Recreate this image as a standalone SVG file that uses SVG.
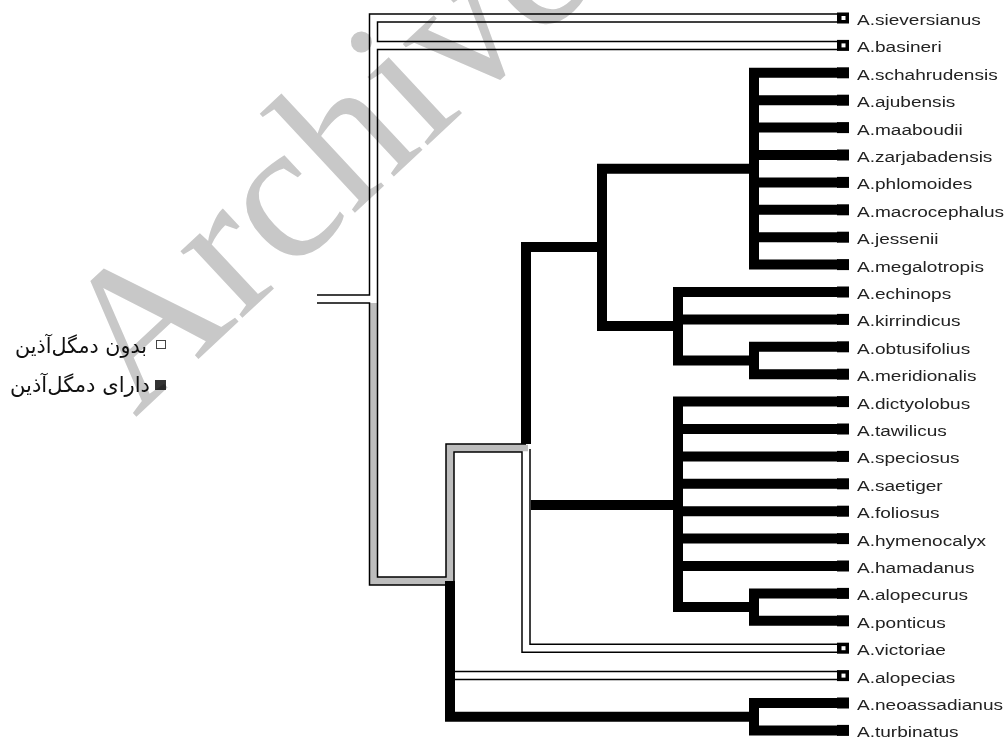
<svg xmlns="http://www.w3.org/2000/svg" width="1005" height="740" viewBox="0 0 1005 740">
<style>
.ol{fill:none;stroke:#000;stroke-width:9.5;stroke-linejoin:miter;stroke-linecap:butt}
.wi{fill:none;stroke:#fff;stroke-width:6.5;stroke-linejoin:miter;stroke-linecap:butt}
.gi{fill:none;stroke:#bdbdbd;stroke-width:6.5;stroke-linejoin:miter;stroke-linecap:butt}
.bk{fill:none;stroke:#000;stroke-width:10;stroke-linejoin:miter;stroke-linecap:butt}
.lab{font-family:"Liberation Sans",Arial,sans-serif;font-size:15px;fill:#222}
.leg{font-family:"DejaVu Sans","Noto Sans",sans-serif;font-size:21px;fill:#111}
.wm{font-family:"Liberation Serif","Times New Roman",serif;font-size:198px;fill:#c8c8c8;mix-blend-mode:multiply}
</style>
<defs>
<g id="sqB"><rect x="837" y="-5.5" width="12" height="11" fill="#000"/></g>
<g id="sqW"><rect x="837" y="-5.5" width="12" height="11" fill="#000"/><rect x="841.5" y="-2" width="4" height="4" fill="#fff"/></g>
</defs>
<rect width="1005" height="740" fill="#fff"/>
<g id="connectors">
 <g id="outlined-outer">
  <path class="ol" d="M838,18 H373.5 V303"/>
  <path class="ol" d="M317,299 H373.5"/>
  <path class="ol" d="M373.5,45.4 H838"/>
  <path class="ol" d="M526,449 V648.2 H838"/>
  <path class="ol" d="M450,675.6 H838"/>
  <path class="ol" d="M373.5,303 V581 H450 V448 H526"/>
 </g>
 <g id="outlined-inner">
  <path class="wi" d="M838,18 H373.5 V303"/>
  <path class="wi" d="M317,299 H373.5"/>
  <path class="wi" d="M373.5,45.4 H838"/>
  <path class="wi" d="M526,449 V648.2 H838"/>
  <path class="wi" d="M450,675.6 H838"/>
  <path class="gi" d="M373.5,303 V581 H450 V448 H528"/>
 </g>
 <g id="black-branches">
  <path class="bk" d="M526,444 V247 H602"/>
  <path class="bk" d="M754,168.7 H602 V326 H678"/>
  <path class="bk" d="M838,72.8 H754 V264.6 H838"/>
  <path class="bk" d="M754,100.2 H838 M754,127.6 H838 M754,155 H838 M754,182.4 H838 M754,209.8 H838 M754,237.2 H838"/>
  <path class="bk" d="M838,292 H678 V360.5 H754"/>
  <path class="bk" d="M678,319.4 H838"/>
  <path class="bk" d="M838,346.8 H754 V374.2 H838"/>
  <path class="bk" d="M531,505 H678"/>
  <path class="bk" d="M838,401.6 H678 V607.1 H754"/>
  <path class="bk" d="M678,429 H838 M678,456.4 H838 M678,483.8 H838 M678,511.2 H838 M678,538.6 H838 M678,566 H838"/>
  <path class="bk" d="M838,593.4 H754 V620.8 H838"/>
  <path class="bk" d="M450,581 V716.7 H754"/>
  <path class="bk" d="M838,703 H754 V730.4 H838"/>
 </g>
</g>
<g id="leaves">
 <use href="#sqW" y="18"/><use href="#sqW" y="45.4"/>
 <use href="#sqB" y="72.8"/><use href="#sqB" y="100.2"/><use href="#sqB" y="127.6"/><use href="#sqB" y="155"/>
 <use href="#sqB" y="182.4"/><use href="#sqB" y="209.8"/><use href="#sqB" y="237.2"/><use href="#sqB" y="264.6"/>
 <use href="#sqB" y="292"/><use href="#sqB" y="319.4"/><use href="#sqB" y="346.8"/><use href="#sqB" y="374.2"/>
 <use href="#sqB" y="401.6"/><use href="#sqB" y="429"/><use href="#sqB" y="456.4"/><use href="#sqB" y="483.8"/>
 <use href="#sqB" y="511.2"/><use href="#sqB" y="538.6"/><use href="#sqB" y="566"/><use href="#sqB" y="593.4"/>
 <use href="#sqB" y="620.8"/><use href="#sqW" y="648.2"/><use href="#sqW" y="675.6"/><use href="#sqB" y="703"/>
 <use href="#sqB" y="730.4"/>
</g>
<g id="labels" class="lab" transform="translate(857,0) scale(1.27,1)">
 <text id="n-sieversianus" y="25">A.sieversianus</text>
 <text id="n-basineri" y="52.4">A.basineri</text>
 <text id="n-schahrudensis" y="79.8">A.schahrudensis</text>
 <text id="n-ajubensis" y="107.2">A.ajubensis</text>
 <text id="n-maaboudii" y="134.6">A.maaboudii</text>
 <text id="n-zarjabadensis" y="162">A.zarjabadensis</text>
 <text id="n-phlomoides" y="189.4">A.phlomoides</text>
 <text id="n-macrocephalus" y="216.8">A.macrocephalus</text>
 <text id="n-jessenii" y="244.2">A.jessenii</text>
 <text id="n-megalotropis" y="271.6">A.megalotropis</text>
 <text id="n-echinops" y="299">A.echinops</text>
 <text id="n-kirrindicus" y="326.4">A.kirrindicus</text>
 <text id="n-obtusifolius" y="353.8">A.obtusifolius</text>
 <text id="n-meridionalis" y="381.2">A.meridionalis</text>
 <text id="n-dictyolobus" y="408.6">A.dictyolobus</text>
 <text id="n-tawilicus" y="436">A.tawilicus</text>
 <text id="n-speciosus" y="463.4">A.speciosus</text>
 <text id="n-saetiger" y="490.8">A.saetiger</text>
 <text id="n-foliosus" y="518.2">A.foliosus</text>
 <text id="n-hymenocalyx" y="545.6">A.hymenocalyx</text>
 <text id="n-hamadanus" y="573">A.hamadanus</text>
 <text id="n-alopecurus" y="600.4">A.alopecurus</text>
 <text id="n-ponticus" y="627.8">A.ponticus</text>
 <text id="n-victoriae" y="655.2">A.victoriae</text>
 <text id="n-alopecias" y="682.6">A.alopecias</text>
 <text id="n-neoassadianus" y="710">A.neoassadianus</text>
 <text id="n-turbinatus" y="737.4">A.turbinatus</text>
</g>
<g id="legend">
 <rect x="156.5" y="340.5" width="9" height="8" fill="#fff" stroke="#444" stroke-width="1"/>
 <text class="leg" x="15" y="353" textLength="132" lengthAdjust="spacingAndGlyphs">بدون دمگل‌آذین</text>
 <rect x="155" y="380" width="11" height="10" fill="#333"/>
 <text class="leg" x="10" y="392" textLength="140" lengthAdjust="spacingAndGlyphs">دارای دمگل‌آذین</text>
</g>
<text class="wm" transform="translate(135,418) rotate(-43)">Archive</text>
</svg>
